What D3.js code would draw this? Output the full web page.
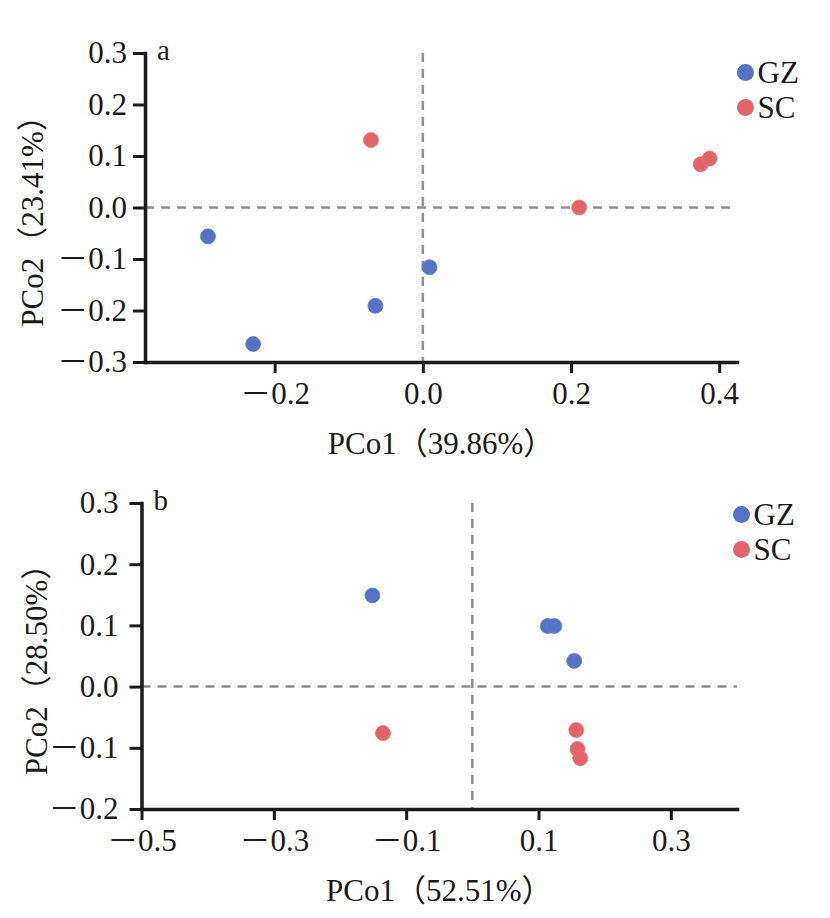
<!DOCTYPE html>
<html lang="zh">
<head>
    <meta charset="UTF-8">
    <title>PCoA</title>
    <script src="https://cdnjs.cloudflare.com/ajax/libs/d3/7.8.5/d3.min.js"></script>
    <style>
        body { margin: 0; background: #fff; }
    </style>
</head>
<body>
<svg id="chart" width="830" height="918"></svg>
<script>
    // groups and colours
    const groups = ["GZ", "SC"];
    const groupColors = ["#5572c4", "#e0646a"];

    // panel a: PCo1 / PCo2 scores
    const aGZ = [[-0.290, -0.056], [-0.229, -0.265], [-0.064, -0.191], [0.009, -0.116]];
    const aSC = [[-0.070, 0.131], [0.211, 0.000], [0.375, 0.084], [0.387, 0.095]];
    const aXTicks = [-0.2, 0.0, 0.2, 0.4];
    const aYTicks = [-0.3, -0.2, -0.1, 0.0, 0.1, 0.2, 0.3];
    const aXLabel = "PCo1（39.86%）";
    const aYLabel = "PCo2（23.41%）";

    // panel b
    const bGZ = [[-0.151, 0.149], [0.114, 0.099], [0.124, 0.099], [0.154, 0.042]];
    const bSC = [[-0.135, -0.076], [0.157, -0.071], [0.159, -0.102], [0.163, -0.117]];
    const bXTicks = [-0.5, -0.3, -0.1, 0.1, 0.3];
    const bYTicks = [-0.2, -0.1, 0.0, 0.1, 0.2, 0.3];
    const bXLabel = "PCo1（52.51%）";
    const bYLabel = "PCo2（28.50%）";

    const FONT = "'Liberation Serif', 'Noto Sans CJK SC', serif";
    const FS = 31;
    const svg = d3.select("#chart");
    const fmt = d => (d < 0 ? "－" : "") + Math.abs(d).toFixed(1);

    function addText(g, txt, size) {
        return g.append("text").attr("font-family", FONT).attr("font-size", size)
            .attr("fill", "#1a1a1a").text(txt);
    }

    function drawPanel(p) {
        const g = svg.append("g");
        const x = d3.scaleLinear().domain(p.xDomain).range([p.left, p.right]);
        const y = d3.scaleLinear().domain(p.yDomain).range([p.bottom, p.top]);

        // dashed zero lines
        g.append("line")
            .attr("x1", x.range()[0]).attr("x2", x.range()[1])
            .attr("y1", y(0)).attr("y2", y(0))
            .attr("stroke", "#8e8e8e").attr("stroke-width", 2.5)
            .attr("stroke-dasharray", "9,7");
        g.append("line")
            .attr("x1", x(0)).attr("x2", x(0))
            .attr("y1", y.range()[1]).attr("y2", y.range()[0])
            .attr("stroke", "#8e8e8e").attr("stroke-width", 2.5)
            .attr("stroke-dasharray", "9,7");

        // axes
        const xAxis = g.append("g")
            .attr("transform", `translate(0,${p.bottom})`)
            .call(d3.axisBottom(x).tickValues(p.xTicks).tickFormat(fmt)
                .tickSize(11).tickSizeOuter(0).tickPadding(9));
        const yAxis = g.append("g")
            .attr("transform", `translate(${p.left},0)`)
            .call(d3.axisLeft(y).tickValues(p.yTicks).tickFormat(fmt)
                .tickSize(12).tickSizeOuter(0).tickPadding(p.yPad));
        [xAxis, yAxis].forEach(a => {
            a.attr("font-family", FONT).attr("font-size", FS);
            a.select(".domain").attr("stroke", "#1a1a1a").attr("stroke-width", 3.5)
                .attr("stroke-linecap", "square");
            a.selectAll(".tick line").attr("stroke", "#1a1a1a").attr("stroke-width", 3);
            a.selectAll(".tick text").attr("fill", "#1a1a1a");
        });
        xAxis.selectAll(".tick text").attr("dy", "0.71em");

        // points
        const series = [p.gz, p.sc];
        series.forEach((pts, i) => {
            g.selectAll(null).data(pts).enter().append("circle")
                .attr("cx", d => x(d[0]))
                .attr("cy", d => y(d[1]))
                .attr("r", 7.5)
                .attr("fill", groupColors[i])
                .attr("stroke", d3.color(groupColors[i]).brighter(0.3))
                .attr("stroke-width", 0.8);
        });

        // legend
        groups.forEach((name, i) => {
            const ly = p.legendY + i * 35;
            g.append("circle").attr("cx", p.legendX).attr("cy", ly).attr("r", 8.5)
                .attr("fill", groupColors[i]);
            addText(g, name, FS).attr("x", p.legendX + 12).attr("y", ly).attr("dy", "0.35em");
        });

        // panel letter
        addText(g, p.letter, 29).attr("x", p.left + 12).attr("y", p.top + 7);

        // axis titles
        addText(g, p.xLabel, FS)
            .attr("x", (p.left + p.right) / 2).attr("y", p.bottom + 92)
            .attr("text-anchor", "middle");
        addText(g, p.yLabel, FS)
            .attr("transform", `translate(${p.yLabelX},${(p.top + p.bottom) / 2 + 6}) rotate(-90)`)
            .attr("text-anchor", "middle").attr("dy", "0.35em");
    }

    drawPanel({
        letter: "a", gz: aGZ, sc: aSC,
        xDomain: [-0.375, 0.424], yDomain: [-0.3, 0.3],
        xTicks: aXTicks, yTicks: aYTicks,
        xLabel: aXLabel, yLabel: aYLabel,
        left: 145, right: 737, top: 53, bottom: 362,
        yPad: 6, yLabelX: 32, legendX: 745.5, legendY: 72.5
    });

    drawPanel({
        letter: "b", gz: bGZ, sc: bSC,
        xDomain: [-0.5, 0.4], yDomain: [-0.2, 0.3],
        xTicks: bXTicks, yTicks: bYTicks,
        xLabel: bXLabel, yLabel: bYLabel,
        left: 141.5, right: 737, top: 503, bottom: 809,
        yPad: 11, yLabelX: 36, legendX: 741.5, legendY: 514.5
    });
</script>
</body>
</html>
